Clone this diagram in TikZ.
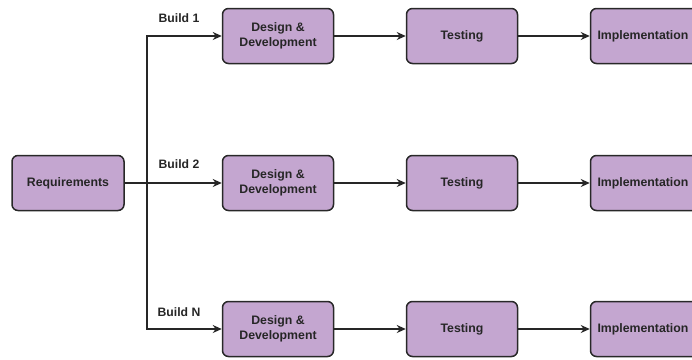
\documentclass[tikz,border=0pt]{standalone}
\usepackage{fontspec}
\setmainfont{Liberation Sans}
\usetikzlibrary{arrows.meta}
\definecolor{boxfill}{RGB}{196,166,208}
\definecolor{boxline}{RGB}{40,40,40}
\tikzset{
  stage/.style={draw=boxline, fill=boxfill, line width=1.5pt, rounded corners=6pt,
    minimum width=111pt, minimum height=55pt, align=center, inner sep=2pt,
    font=\fontsize{12.3}{14.5}\selectfont\bfseries, text=black!85},
  conn/.style={draw=black!85, line width=1.6pt, -{Stealth[length=9pt,width=8pt]}},
  plain/.style={draw=black!85, line width=1.6pt},
  buildlbl/.style={font=\fontsize{12.2}{14}\selectfont\bfseries, text=black!85, inner sep=0pt}
}
\begin{document}
\begin{tikzpicture}[x=1pt,y=-1pt]
\useasboundingbox (0,0) rectangle (692,359);
\clip (0,0) rectangle (692,359);
\node[stage, minimum width=112pt] (req) at (68,183) {Requirements};
\foreach \r/\y in {1/36,2/183,3/329}{
  \node[stage] (des\r) at (278,\y) {Design \&\\Development};
  \node[stage] (tst\r) at (462,\y) {Testing};
  \node[stage, text width=97pt, align=left] (imp\r) at (646,\y) {Implementation};
  \draw[conn] (des\r) -- (tst\r);
  \draw[conn] (tst\r) -- (imp\r);
}
\coordinate (split) at (147,183);
\draw[plain] (req.east) -- (split);
\draw[conn] (split) -- (des2.west);
\draw[conn] (split) |- (des1.west);
\draw[conn] (split) |- (des3.west);
\node[buildlbl] (b1) at (179,18) {Build 1};
\node[buildlbl] (b2) at (179,164) {Build 2};
\node[buildlbl] (b3) at (179,312) {Build N};
\end{tikzpicture}
\end{document}
